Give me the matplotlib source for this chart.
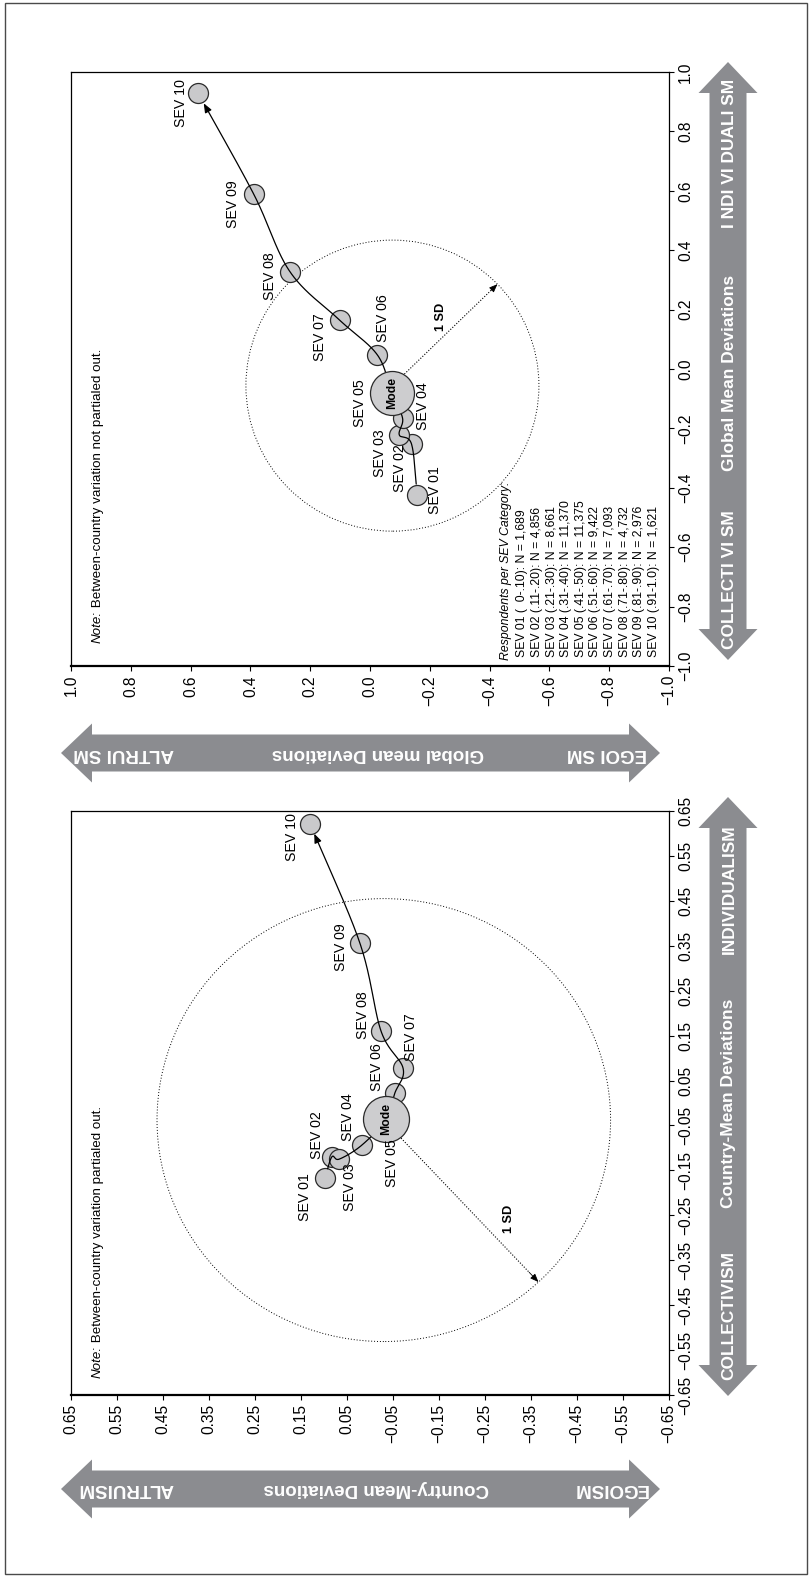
import numpy as np
import matplotlib
matplotlib.use("Agg")
import matplotlib.pyplot as plt
from matplotlib import font_manager
from matplotlib.patches import Polygon, Circle, FancyArrowPatch, Rectangle
from matplotlib.path import Path

plt.rcParams["font.family"] = ["Liberation Sans", "DejaVu Sans"]
plt.rcParams["axes.unicode_minus"] = True

_installed = {f.name for f in font_manager.fontManager.ttflist}
NARROW = ["Liberation Sans Narrow", "Liberation Sans"] if "Liberation Sans Narrow" in _installed else ["Liberation Sans"]

# ---------------------------------------------------------------- data
sev_labels = ["SEV 01", "SEV 02", "SEV 03", "SEV 04", "SEV 05",
              "SEV 06", "SEV 07", "SEV 08", "SEV 09", "SEV 10"]
sev_ranges = ["(  0-.10)", "(.11-.20)", "(.21-.30)", "(.31-.40)", "(.41-.50)",
              "(.51-.60)", "(.61-.70)", "(.71-.80)", "(.81-.90)", "(.91-1.0)"]
sev_counts = ["1,689", "4,856", "8,661", "11,370", "11,375",
              "9,422", "7,093", "4,732", "2,976", "1,621"]
mode_index = 4  # SEV 05 is the modal category

# Global mean deviations (between-country variation not partialed out)
global_indiv = [-0.424, -0.253, -0.222, -0.166, -0.082, 0.047, 0.165, 0.328, 0.589, 0.929]
global_altru = [-0.158, -0.139, -0.098, -0.109, -0.073, -0.025, 0.102, 0.268, 0.389, 0.575]
global_sd_center = (-0.056, -0.075)   # (individualism, altruism)
global_sd_radius = 0.49
global_ticks = [1.0, 0.8, 0.6, 0.4, 0.2, 0.0, -0.2, -0.4, -0.6, -0.8, -1.0]
global_tick_labels = ["1.0", "0.8", "0.6", "0.4", "0.2", "0.0",
                      "\u22120.2", "\u22120.4", "\u22120.6", "\u22120.8", "\u22121.0"]

# Country-mean deviations (between-country variation partialed out)
country_indiv = [-0.168, -0.120, -0.125, -0.094, -0.036, 0.022, 0.077, 0.160, 0.356, 0.621]
country_altru = [0.098, 0.083, 0.067, 0.018, -0.035, -0.054, -0.072, -0.024, 0.022, 0.130]
country_sd_center = (-0.038, -0.030)
country_sd_radius = 0.493
country_ticks = [0.65, 0.55, 0.45, 0.35, 0.25, 0.15, 0.05,
                 -0.05, -0.15, -0.25, -0.35, -0.45, -0.55, -0.65]
country_tick_labels = ["0.65", "0.55", "0.45", "0.35", "0.25", "0.15", "0.05",
                       "\u22120.05", "\u22120.15", "\u22120.25", "\u22120.35",
                       "\u22120.45", "\u22120.55", "\u22120.65"]

# ---------------------------------------------------------------- styling
W, H = 810, 1576
ARROW_GREY = "#8b8c90"
DOT_FILL = "#c9c9cb"
DOT_EDGE = "#2a2a2a"
SMALL_DIAM_PX = 20

fig = plt.figure(figsize=(W / 100, H / 100), dpi=100)
fig.patch.set_facecolor("white")
renderer = fig.canvas.get_renderer()

overlay = fig.add_axes([0, 0, 1, 1], zorder=0)
overlay.set_xlim(0, W)
overlay.set_ylim(H, 0)
overlay.axis("off")
overlay.add_patch(Rectangle((5, 3), 802, 1571, fill=False, ec="#4a4a4a", lw=1.0))


def px_axes(left, top, right, bottom):
    return fig.add_axes([left / W, 1 - bottom / H, (right - left) / W, (bottom - top) / H], zorder=1)


def double_arrow(x0, y0, x1, y1, shaft=18.5, head=29.5, head_len=31):
    p0 = np.array([x0, y0], float)
    p1 = np.array([x1, y1], float)
    u = (p1 - p0) / np.hypot(*(p1 - p0))
    n = np.array([-u[1], u[0]])
    b0 = p0 + u * head_len
    b1 = p1 - u * head_len
    pts = [p0, b0 + n * head, b0 + n * shaft, b1 + n * shaft, b1 + n * head,
           p1, b1 - n * head, b1 - n * shaft, b0 - n * shaft, b0 - n * head]
    overlay.add_patch(Polygon(pts, closed=True, fc=ARROW_GREY, ec="none"))


def arrow_text(x, y, s, rot, family=None, size=12.5):
    kw = dict(rotation=rot, ha="center", va="center", color="white",
              fontweight="bold", fontsize=size)
    if family is not None:
        kw["family"] = family
    overlay.text(x, y, s, **kw)


def catmull_rom(pts, n=40):
    pts = np.asarray(pts, float)
    P = np.vstack([2 * pts[0] - pts[1], pts, 2 * pts[-1] - pts[-2]])
    out = []
    t = np.linspace(0, 1, n, endpoint=False)[:, None]
    for i in range(1, len(P) - 2):
        p0, p1, p2, p3 = P[i - 1], P[i], P[i + 1], P[i + 2]
        seg = 0.5 * (2 * p1 + (-p0 + p2) * t + (2 * p0 - 5 * p1 + 4 * p2 - p3) * t ** 2
                     + (-p0 + 3 * p1 - 3 * p2 + p3) * t ** 3)
        out.append(seg)
    out.append(P[-2][None])
    return np.vstack(out)


def note_text(ax, y_frac, body, size=9.6):
    """Italic 'Note:' lead-in followed by upright text, read bottom-to-top."""
    lead = ax.text(0.045, y_frac, "Note:", transform=ax.transAxes, rotation=90,
                   ha="center", va="bottom", fontsize=size, style="italic")
    bb = lead.get_window_extent(renderer)
    top = ax.transAxes.inverted().transform((bb.x0, bb.y1))[1]
    ax.text(0.045, top, " " + body, transform=ax.transAxes, rotation=90,
            ha="center", va="bottom", fontsize=size)


def draw_panel(ax, indiv, altru, lim, ticks, tick_labels, sd_center, sd_radius,
               sd_angle_deg, sd_label_pos, label_offsets, mode_diam_px, note):
    ax.set_xlim(lim, -lim)      # horizontal: altruism (positive to the left)
    ax.set_ylim(-lim, lim)      # vertical: individualism (positive upward)
    ax.set_xticks(ticks)
    ax.set_xticklabels(tick_labels, rotation=90, fontsize=11.2)
    ax.yaxis.tick_right()
    ax.set_yticks(ticks)
    ax.set_yticklabels(tick_labels, rotation=90, fontsize=11.2, va="center")
    ax.tick_params(direction="out", length=3.5, width=0.8, pad=3, colors="black")
    for sp in ax.spines.values():
        sp.set_linewidth(0.9)
    ax.spines["bottom"].set_linewidth(1.6)

    x = np.asarray(altru, float)
    y = np.asarray(indiv, float)

    # 1 SD circle and radius arrow
    c_ind, c_alt = sd_center
    ax.add_patch(Circle((c_alt, c_ind), sd_radius, fill=False, ec="black",
                        lw=0.7, ls=(0, (1, 2)), zorder=1))
    a = np.deg2rad(sd_angle_deg)
    end = np.array([c_alt + sd_radius * np.sin(a), c_ind + sd_radius * np.cos(a)])
    start = np.array([c_alt, c_ind])
    pre = start + (end - start) * 0.94
    ax.plot([start[0], pre[0]], [start[1], pre[1]], color="black", lw=0.8,
            ls=(0, (1, 1.5)), zorder=1)
    ax.annotate("", xy=end, xytext=pre,
                arrowprops=dict(arrowstyle="-|>,head_length=0.5,head_width=0.2",
                                color="black", lw=0.6, mutation_scale=10, shrinkA=0, shrinkB=0))
    ax.text(sd_label_pos[1], sd_label_pos[0], "1 SD", rotation=90, ha="center", va="center",
            fontweight="bold", fontsize=9.2, zorder=5)

    # small category dots
    small = [i for i in range(len(x)) if i != mode_index]
    s_small = (SMALL_DIAM_PX * 0.72) ** 2
    ax.scatter(x[small], y[small], s=s_small, c=DOT_FILL, edgecolors=DOT_EDGE,
               linewidths=0.9, zorder=2)

    # smooth trajectory with arrowhead at the last category
    disp = ax.transData.transform(np.column_stack([x, y]))
    curve = catmull_rom(disp, n=50)
    r = SMALL_DIAM_PX / 2
    d0 = np.hypot(*(curve - disp[0]).T)
    d1 = np.hypot(*(curve - disp[-1]).T)
    keep = (np.arange(len(curve)) >= np.argmax(d0 > r)) & (d1 > r)
    curve = curve[keep]
    curve_data = ax.transData.inverted().transform(curve)
    ax.add_patch(FancyArrowPatch(path=Path(curve_data),
                                 arrowstyle="-|>,head_length=0.45,head_width=0.18",
                                 mutation_scale=12, lw=0.9, color="black", zorder=3))

    # modal category
    s_mode = (mode_diam_px * 0.72) ** 2
    ax.scatter([x[mode_index]], [y[mode_index]], s=s_mode, c="#cdcdcf",
               edgecolors=DOT_EDGE, linewidths=0.9, zorder=4)
    ax.text(x[mode_index], y[mode_index], "Mode", rotation=90, ha="center", va="center",
            fontweight="bold", fontsize=8.8, zorder=5)

    for i, lab in enumerate(sev_labels):
        dx, dy = label_offsets[i]
        ax.annotate(lab, xy=(x[i], y[i]), xytext=(dx * 0.72, -dy * 0.72),
                    textcoords="offset points", rotation=90, ha="center", va="center",
                    fontsize=10.2, zorder=6)

    note_text(ax, note[1], note[0])


# label offsets in pixels (right, down) from each dot
global_label_offsets = [(18, -5), (-12, 24), (-19, 18), (20, -12), (-32, 10),
                        (6, -37), (-20, 17), (-20, 5), (-21, 10), (-17, 10)]
country_label_offsets = [(-20, 19), (-15, -22), (11, 28), (-14, -28), (6, 44),
                         (-18, -26), (8, -31), (-18, -16), (-19, 4), (-18, 13)]

# ---------------------------------------------------------------- top: global panel
ax_g = px_axes(71, 72, 669, 666)
draw_panel(ax_g, global_indiv, global_altru, 1.0, global_ticks, global_tick_labels,
           global_sd_center, global_sd_radius, -45.8, (0.175, -0.237),
           global_label_offsets, 44,
           ("Between-country variation not partialed out.", 0.039))

ax_g.text(0.727, 0.010, "Respondents per SEV Category:", transform=ax_g.transAxes,
          rotation=90, ha="center", va="bottom", fontsize=8.8, style="italic")
for i in range(len(sev_labels)):
    line = f"{sev_labels[i]} {sev_ranges[i]}: N = {sev_counts[i]}"
    ax_g.text(0.755 + i * 0.0244, 0.015, line, transform=ax_g.transAxes,
              rotation=90, ha="center", va="bottom", fontsize=8.8)

# ---------------------------------------------------------------- bottom: country panel
ax_c = px_axes(71, 811, 669, 1395)
draw_panel(ax_c, country_indiv, country_altru, 0.65, country_ticks, country_tick_labels,
           country_sd_center, country_sd_radius, -137.0, (-0.258, -0.302),
           country_label_offsets, 46,
           ("Between-country variation partialed out.", 0.029))

# ---------------------------------------------------------------- dimension arrows
double_arrow(728, 62, 728, 660)
arrow_text(729, 153, "I NDI VI DUALI SM", 90)
arrow_text(729, 373, "Global Mean Deviations", 90)
arrow_text(729, 580, "COLLECTI VI SM", 90)

double_arrow(61, 753, 660, 753)
arrow_text(124, 753, "ALTRUI SM", 180, NARROW, 13.5)
arrow_text(378, 753, "Global mean Deviations", 180, NARROW, 13.5)
arrow_text(607, 753, "EGOI SM", 180, NARROW, 13.5)

double_arrow(728, 797, 728, 1396)
arrow_text(729, 889, "INDIVIDUALISM", 90)
arrow_text(729, 1103, "Country-Mean Deviations", 90)
arrow_text(729, 1315, "COLLECTIVISM", 90)

double_arrow(61, 1489, 660, 1489)
arrow_text(126, 1489, "ALTRUISM", 180, NARROW, 13.5)
arrow_text(376, 1489, "Country-Mean Deviations", 180, NARROW, 13.5)
arrow_text(610, 1489, "EGOISM", 180, NARROW, 13.5)

fig.savefig("out.png", dpi=100, facecolor="white")
